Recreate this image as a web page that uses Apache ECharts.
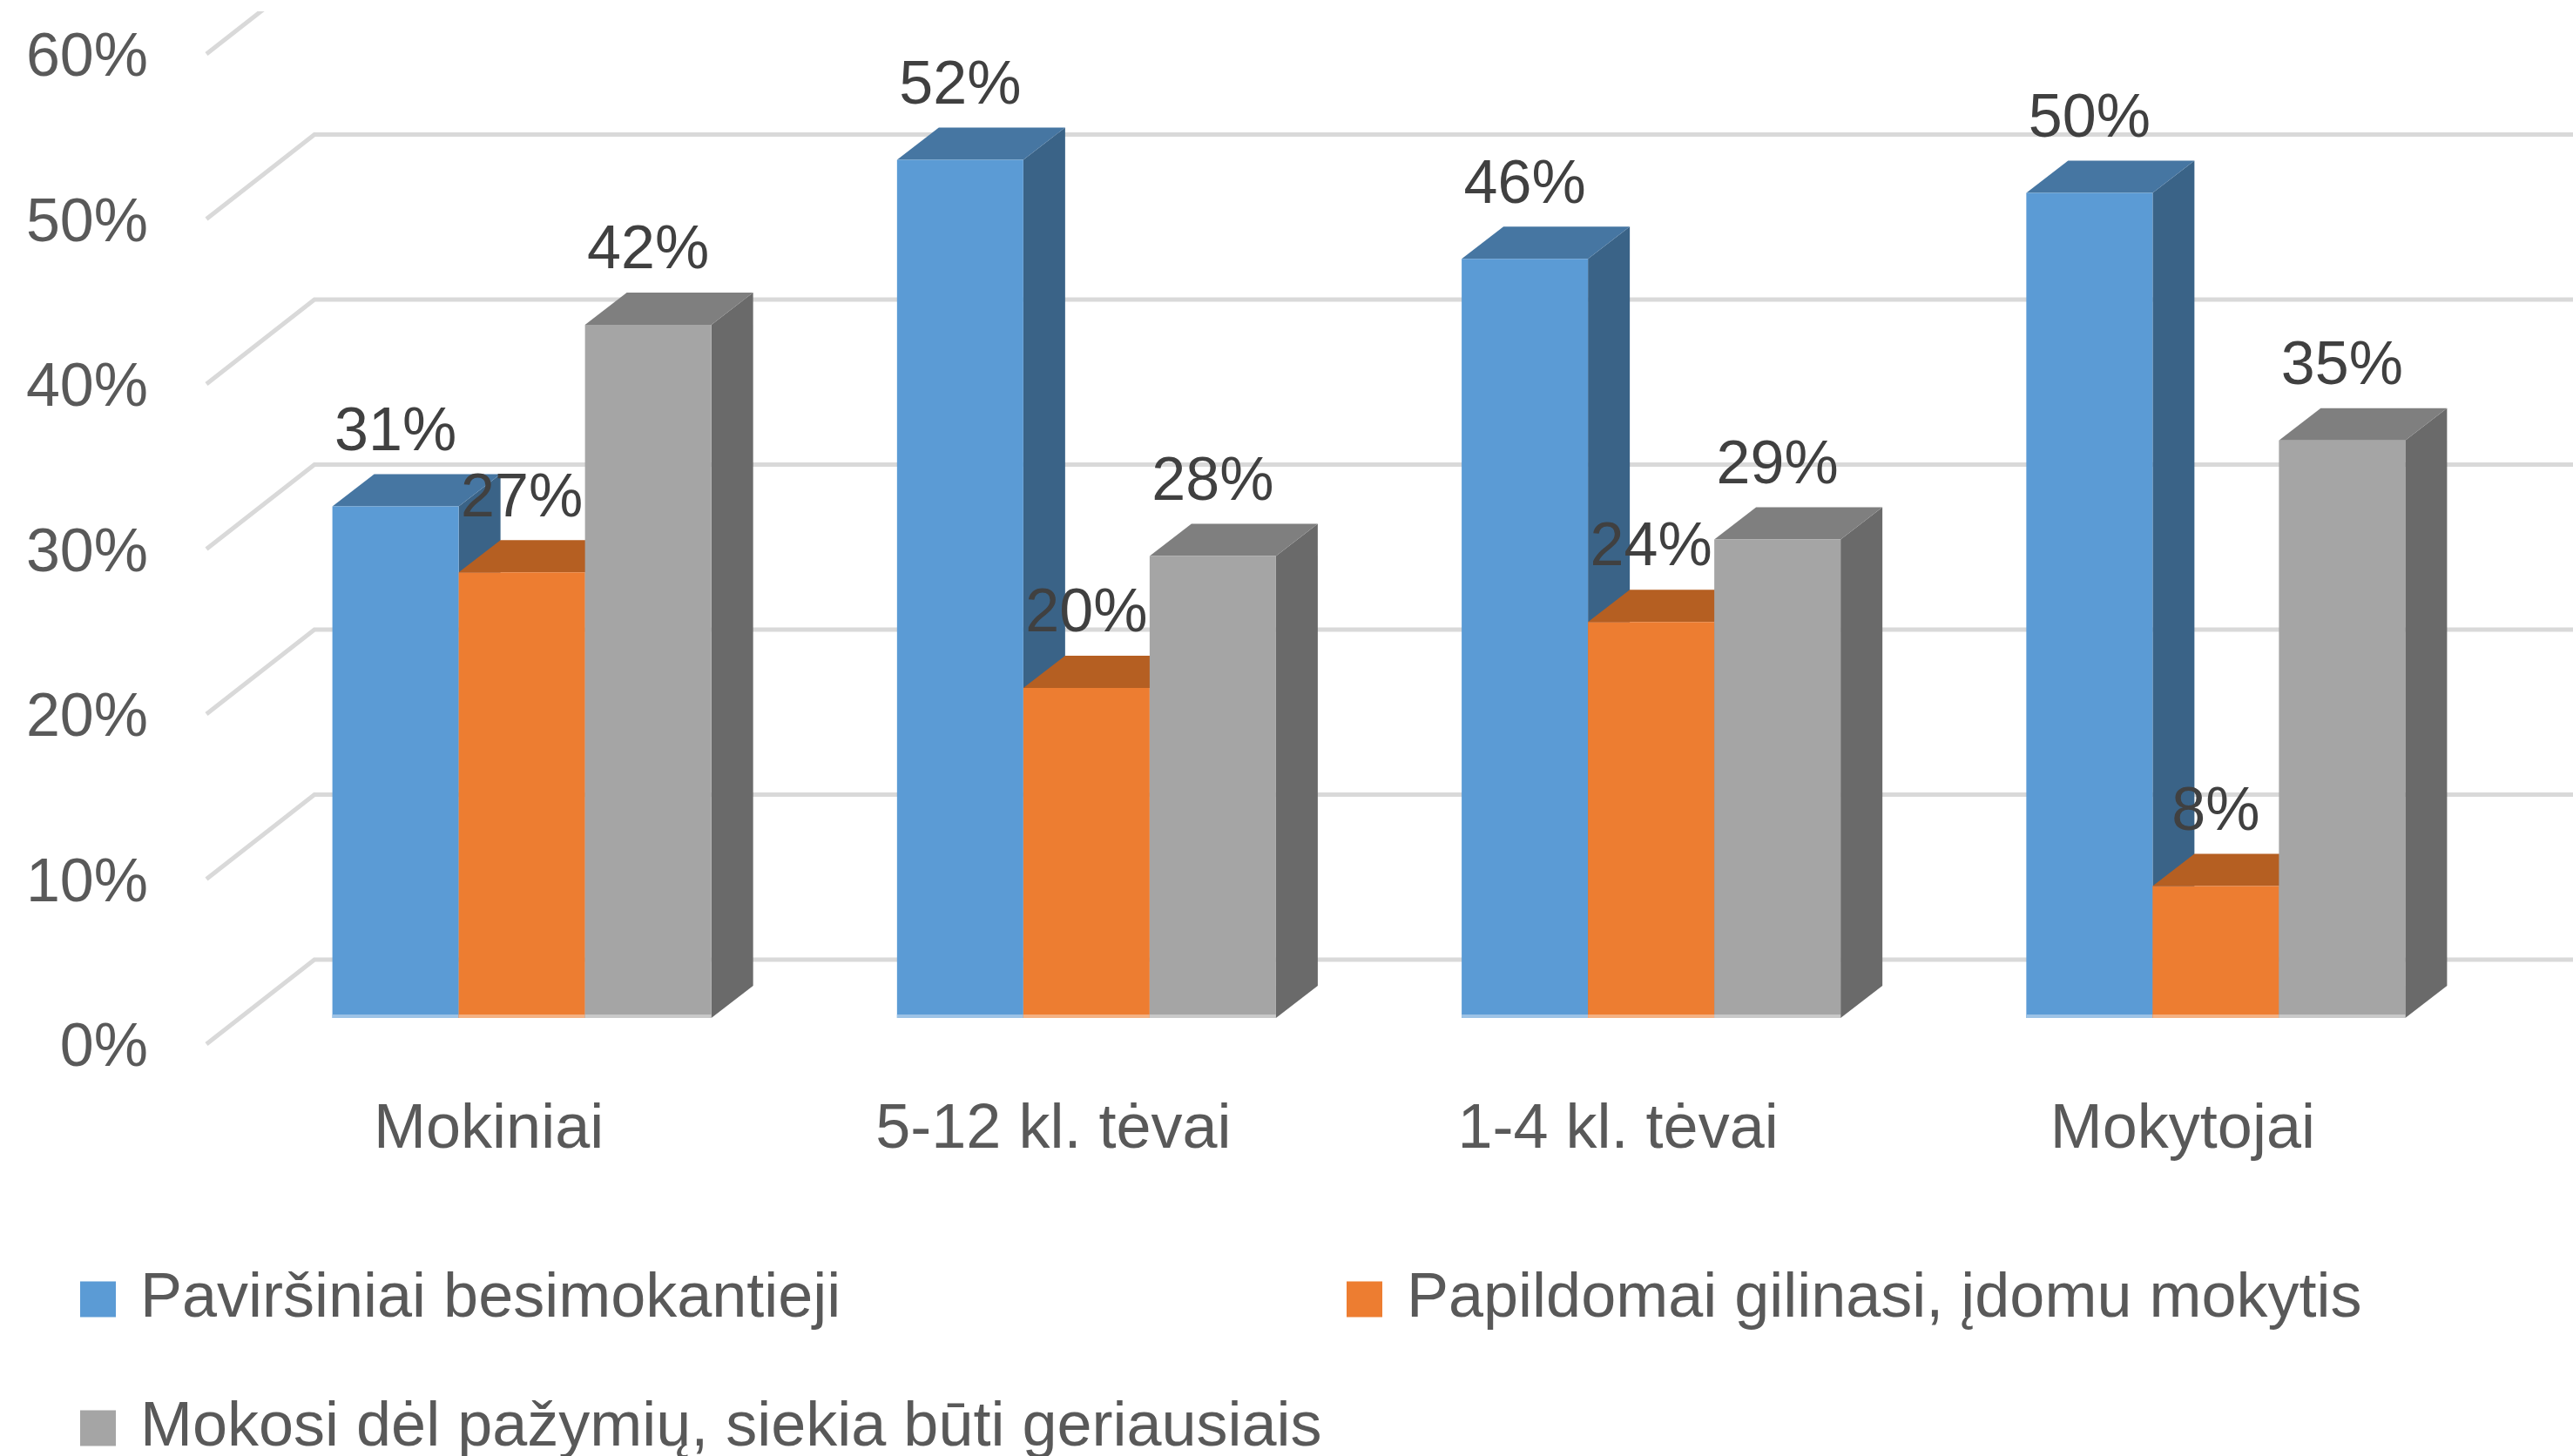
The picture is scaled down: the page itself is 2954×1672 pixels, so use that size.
<!DOCTYPE html>
<html>
<head>
<meta charset="utf-8">
<script src="https://cdn.jsdelivr.net/npm/echarts@6/dist/echarts.min.js"></script>
<style>
  html, body { margin: 0; padding: 0; background: #fff; }
  #main { width: 2954px; height: 1672px; }
</style>
</head>
<body>
<div id="main"></div>
<script>
// duomenys
var categories = ['Mokiniai', '5-12 kl. tėvai', '1-4 kl. tėvai', 'Mokytojai']
var seriesNames = ['Paviršiniai besimokantieji', 'Papildomai gilinasi, įdomu mokytis', 'Mokosi dėl pažymių, siekia būti geriausiais']
var pavirsiniai = [31, 52, 46, 50]
var papildomai = [27, 20, 24, 8]
var pazymiai = [42, 28, 29, 35]
var yTicks = [0, 10, 20, 30, 40, 50, 60]

var FONT = 'Liberation Sans'
// spalvos: priekis, viršus, šonas, apačios juosta
var palette = [
  { front: '#5b9bd5', top: '#4676a2', side: '#3a6387', base: '#9dc3e6' },
  { front: '#ed7d31', top: '#b55f22', side: '#a3551f', base: '#f4b183' },
  { front: '#a5a5a5', top: '#7f7f7f', side: '#6a6a6a', base: '#c9c9c9' }
]

// 3D poslinkiai (pikseliais)
var FRONT_DX = 38, FRONT_DY = 30    // stulpelio priekis nuo priekinės plokštumos
var DEPTH_DX = 48, DEPTH_DY = 37    // stulpelio gylis
var WALL_DX = 124, WALL_DY = 97     // galinė siena
var BAR_FRAC = 0.2237

function barRender (sIdx) {
  var col = palette[sIdx]
  return function (params, api) {
    var c = api.coord([api.value(0), api.value(1)])
    var b = api.coord([api.value(0), 0])
    var band = api.size([1, 0])[0]
    var w = band * BAR_FRAC
    var x0 = c[0] + FRONT_DX + (sIdx - 1.5) * w
    var x1 = x0 + w
    var yt = c[1] - FRONT_DY
    var yb = b[1] - FRONT_DY
    return {
      type: 'group',
      children: [
        {
          type: 'polygon',
          shape: { points: [[x1, yt], [x1 + DEPTH_DX, yt - DEPTH_DY], [x1 + DEPTH_DX, yb - DEPTH_DY], [x1, yb]] },
          style: { fill: col.side }
        },
        {
          type: 'polygon',
          shape: { points: [[x0, yt], [x1, yt], [x1 + DEPTH_DX, yt - DEPTH_DY], [x0 + DEPTH_DX, yt - DEPTH_DY]] },
          style: { fill: col.top }
        },
        {
          type: 'rect',
          shape: { x: x0, y: yt, width: w, height: yb - yt },
          style: { fill: col.front }
        },
        {
          type: 'rect',
          shape: { x: x0, y: yb - 4, width: w, height: 4 },
          style: { fill: col.base }
        }
      ]
    }
  }
}

function gridRender (params, api) {
  var p = api.coord([0, api.value(1)])
  var x = params.coordSys.x
  var y = p[1]
  return {
    type: 'polyline',
    shape: { points: [[x, y], [x + WALL_DX, y - WALL_DY], [params.coordSys.x + params.coordSys.width + WALL_DX + 10, y - WALL_DY]] },
    style: { stroke: '#d9d9d9', lineWidth: 5, fill: null },
    clipPath: { type: 'rect', shape: { x: 0, y: 13, width: 2954, height: 1700 } }
  }
}

function labelRender (params, api) {
  var sIdx = api.value(2)
  var c = api.coord([api.value(0), api.value(1)])
  var band = api.size([1, 0])[0]
  var w = band * BAR_FRAC
  var cx = c[0] + FRONT_DX + (sIdx - 1) * w
  return {
    type: 'text',
    style: {
      text: api.value(1) + '%',
      x: cx,
      y: c[1] - FRONT_DY - 84,
      align: 'center',
      verticalAlign: 'middle',
      fill: '#404040',
      font: '70px "' + FONT + '"'
    }
  }
}

var allValues = [pavirsiniai, papildomai, pazymiai]
function toData (arr) {
  return arr.map(function (v, i) { return [i, v] })
}
var labelData = []
allValues.forEach(function (arr, s) {
  arr.forEach(function (v, i) { labelData.push([i, v, s]) })
})

var myChart = echarts.init(document.getElementById('main'))

var legendBase = {
  orient: 'horizontal',
  padding: 0,
  icon: 'rect',
  itemWidth: 41,
  itemHeight: 41,
  selectedMode: false,
  textStyle: {
    fontFamily: FONT,
    fontSize: 72,
    color: '#595959',
    lineHeight: 80,
    padding: [0, 0, 0, 23]
  }
}

var option = {
  backgroundColor: '#fff',
  animation: false,
  grid: { left: 237, right: 124, top: 62, bottom: 473 },
  legend: [
    Object.assign({}, legendBase, { data: [seriesNames[0]], left: 92, top: 1452 }),
    Object.assign({}, legendBase, { data: [seriesNames[1]], left: 1546, top: 1452 }),
    Object.assign({}, legendBase, { data: [seriesNames[2]], left: 92, top: 1600 })
  ],
  xAxis: {
    type: 'category',
    data: categories,
    axisLine: { show: false },
    axisTick: { show: false },
    axisLabel: { margin: 63, fontFamily: FONT, fontSize: 72, color: '#595959' }
  },
  yAxis: {
    type: 'value',
    min: 0,
    max: 60,
    interval: 10,
    axisLine: { show: false },
    axisTick: { show: false },
    splitLine: { show: false },
    axisLabel: {
      margin: 67,
      formatter: function (v) { return '{p|' + v + '%}' },
      rich: {
        p: { padding: [12, 0, 0, 0], fontFamily: FONT, fontSize: 70, color: '#595959' }
      }
    }
  },
  series: [
    {
      type: 'custom',
      name: 'grid',
      renderItem: gridRender,
      data: yTicks.map(function (v) { return [0, v] }),
      silent: true,
      z: 1
    },
    {
      type: 'custom',
      name: seriesNames[0],
      renderItem: barRender(0),
      itemStyle: { color: palette[0].front },
      data: toData(pavirsiniai),
      z: 2
    },
    {
      type: 'custom',
      name: seriesNames[1],
      renderItem: barRender(1),
      itemStyle: { color: palette[1].front },
      data: toData(papildomai),
      z: 3
    },
    {
      type: 'custom',
      name: seriesNames[2],
      renderItem: barRender(2),
      itemStyle: { color: palette[2].front },
      data: toData(pazymiai),
      z: 4
    },
    {
      type: 'custom',
      name: 'labels',
      renderItem: labelRender,
      data: labelData,
      silent: true,
      z: 10
    }
  ]
}

myChart.setOption(option)
</script>
</body>
</html>
